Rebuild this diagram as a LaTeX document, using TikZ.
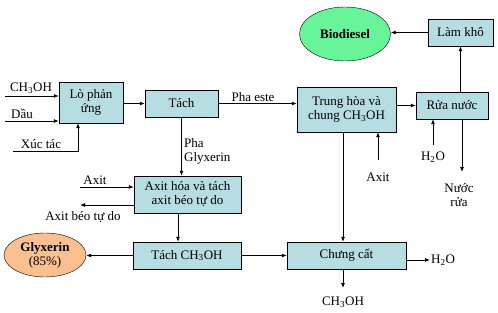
\documentclass[tikz,border=0pt]{standalone}
\usepackage{fontspec}
\setmainfont{Liberation Serif}
\usetikzlibrary{arrows.meta,positioning,shapes.geometric,calc}
\definecolor{boxfill}{RGB}{182,221,226}
\definecolor{biofill}{RGB}{104,245,154}
\definecolor{glyfill}{RGB}{250,192,143}
\newcommand{\meth}{CH\textsubscript{3}OH}
\newcommand{\water}{H\textsubscript{2}O}
\tikzset{
  proc/.style={draw,fill=boxfill,align=center,inner sep=1pt,font=\fontsize{13}{14}\selectfont},
  prod/.style={draw,ellipse,align=center,inner sep=0pt,font=\fontsize{13}{14}\selectfont},
  lbl/.style={inner sep=1pt,align=center,font=\fontsize{13}{14}\selectfont},
  arrow/.style={-{Latex[length=5pt,width=4pt]},line width=0.8pt}
}
\begin{document}
\begin{tikzpicture}[x=1pt,y=-1pt]
  \useasboundingbox (0,0) rectangle (498,313);

  % process boxes
  \node[proc,minimum width=64,minimum height=41] (lo)       at (91,102.5)  {Lò phản\\ứng};
  \node[proc,minimum width=73,minimum height=27] (tach)     at (181.5,103.5) {Tách};
  \node[proc,minimum width=99,minimum height=45] (trunghoa) at (346.5,109.5) {Trung hòa và\\chung \meth};
  \node[proc,minimum width=72,minimum height=27] (ruanuoc)  at (452,105.5)  {Rửa nước};
  \node[proc,minimum width=65,minimum height=27] (lamkho)   at (460.5,32.5) {Làm khô};
  \node[proc,minimum width=107,minimum height=37] (axithoa) at (187.5,194.5) {Axit hóa và tách\\axit béo tự do};
  \node[proc,minimum width=108,minimum height=27] (tachch)  at (187,255.5)  {Tách \meth};
  \node[proc,minimum width=119,minimum height=27] (chungcat) at (346.5,255.5) {Chưng cất};

  % products
  \node[prod,fill=biofill,minimum width=91,minimum height=54] (biodiesel) at (345,34) {\textbf{Biodiesel}};
  \node[prod,fill=glyfill,minimum width=82,minimum height=44] (glyxerin)  at (45,255) {\textbf{Glyxerin}\\(85\%)};

  % free ends and labels
  \coordinate (inch) at (5,96);
  \coordinate (indau) at (5,121);
  \coordinate (inxt) at (13,151);
  \coordinate (inax) at (80,187);
  \coordinate (outab) at (80,205);
  \coordinate (inax2) at (378,160);
  \coordinate (inh2o) at (433,145);
  \coordinate (outnr) at (462,172);
  \node[lbl] (Lch)    at (31,88)   {\meth};
  \node[lbl] (Ldau)   at (22,114)  {Dầu};
  \node[lbl] (Lxt)    at (41,144)  {Xúc tác};
  \node[lbl] (Leste)  at (253,97)  {Pha este};
  \node[lbl,anchor=north west,align=left] (Lgly) at (183,137) {Pha\\Glyxerin};
  \node[lbl] (Lax)    at (95,180)  {Axit};
  \node[lbl] (Lab)    at (83,217)  {Axit béo tự do};
  \node[lbl] (Lax2)   at (378,177) {Axit};
  \node[lbl] (Lh2o)   at (433,157) {\water};
  \node[lbl] (Lnr)    at (459,195) {Nước\\rửa};
  \node[lbl,anchor=west] (Lh2o2) at (430,260) {\water};
  \node[lbl] (Lch2)   at (343,302) {\meth};

  \draw[arrow] (inch) -- (inch -| lo.west);
  \draw[arrow] (indau) -- (indau -| lo.west);
  \draw[arrow] (inxt) -| ([xshift=-13pt]lo.south);
  \draw[arrow] (lo.east |- tach) -- (tach.west);
  \draw[arrow] (tach.east) -- (tach.east -| trunghoa.west);
  \draw[arrow] (tach.south) -- (tach.south |- axithoa.north);
  \draw[arrow] (trunghoa.east |- ruanuoc) -- (ruanuoc.west);
  \draw[arrow] (ruanuoc.north -| lamkho.south) -- (lamkho.south);
  \draw[arrow] (lamkho.west) -- (lamkho.west -| biodiesel.east);
  \draw[arrow] (inh2o) -- (inh2o |- ruanuoc.south);
  \draw[arrow] (ruanuoc.south -| outnr) -- (outnr);
  \draw[arrow] (inax2) -- (inax2 |- trunghoa.south);
  \draw[arrow] ([xshift=-3.5pt]trunghoa.south) -- ([xshift=-3.5pt]trunghoa.south |- chungcat.north);
  \draw[arrow] (inax) -- (inax -| axithoa.west);
  \draw[arrow] (outab -| axithoa.west) -- (outab);
  \draw[arrow] ([xshift=-9.5pt]axithoa.south) -- ([xshift=-9.5pt]axithoa.south |- tachch.north);
  \draw[arrow] (tachch.west) -- (tachch.west -| glyxerin.east);
  \draw[arrow] (tachch.east) -- (chungcat.west);
  \draw[arrow] (chungcat.east |- Lh2o2) -- (Lh2o2.west);
  \draw[arrow] ([xshift=-3.5pt]chungcat.south) -- ([xshift=-3.5pt]chungcat.south |- 0,288);

\end{tikzpicture}
\end{document}
